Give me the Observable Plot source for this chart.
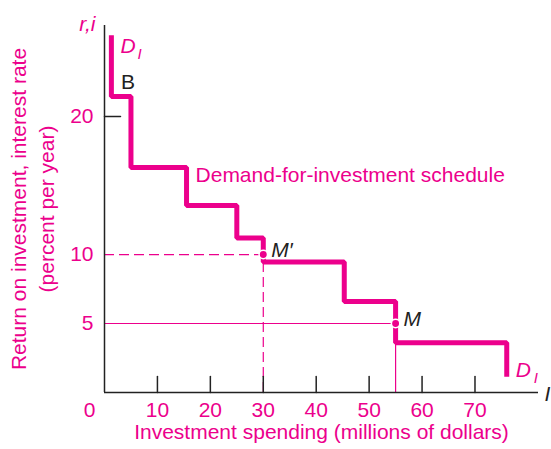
<!DOCTYPE html>
<html><head><meta charset="utf-8">
<script src="https://cdn.jsdelivr.net/npm/d3@7"></script>
<script src="https://cdn.jsdelivr.net/npm/@observablehq/plot@0.6"></script>
<style>body{margin:0;background:#fff}</style>
</head><body><div id="chart"></div>
<script>
// Step-function demand-for-investment schedule
const stepX = [1.3, 5, 15.5, 25, 30, 45.3, 55, 76];
const stepR = [25.9, 21.45, 16.3, 13.55, 11.2, 9.45, 6.6, 3.6, 1.15];
const xTicks = [10, 20, 30, 40, 50, 60, 70];
const yTickLabels = [5, 10, 20];
const yTicks = [20];
const equilibria = [{name: "M′", x: 30, r: 10}, {name: "M", x: 55, r: 5}];
const xMax = 82, yMax = 26.6;

const pink = "#ec008c";
const ink = "#222";
const FS = 21;

const pts = [];
for (let i = 0; i < stepX.length; i++) {
  pts.push({x: stepX[i], r: stepR[i]});
  pts.push({x: stepX[i], r: stepR[i + 1]});
}
const tickShape = {draw(c, l) { c.moveTo(0, 0); c.lineTo(0, -l); }};
const mPrime = equilibria[0], m = equilibria[1];

const chart = Plot.plot({
  width: 551, height: 449,
  marginLeft: 104, marginRight: 13, marginTop: 25, marginBottom: 57,
  x: {domain: [0, xMax], axis: null},
  y: {domain: [0, yMax], axis: null},
  style: {fontFamily: "'Liberation Sans', Arial, sans-serif", background: "#fff"},
  marks: [
    // guide lines
    Plot.ruleY([mPrime], {y: "r", x1: 0, x2: "x", stroke: pink, strokeWidth: 1.2, strokeDasharray: "10,5"}),
    Plot.ruleX([mPrime], {x: "x", y1: 0, y2: "r", stroke: pink, strokeWidth: 1.2, strokeDasharray: "10,5"}),
    Plot.ruleY([m], {y: "r", x1: 0, x2: "x", stroke: pink, strokeWidth: 1.2}),
    Plot.ruleX([m], {x: "x", y1: 0, y2: "r", stroke: pink, strokeWidth: 1.2}),
    // axes
    Plot.ruleY([0], {stroke: ink, strokeWidth: 1.5}),
    Plot.ruleX([0], {stroke: ink, strokeWidth: 1.5}),
    Plot.vector(xTicks, {x: d => d, y: 0, length: 16, rotate: 0, anchor: "start", shape: tickShape, stroke: ink, strokeWidth: 1.5}),
    Plot.vector(yTicks, {x: 0, y: d => d, length: 16, rotate: 90, anchor: "start", shape: tickShape, stroke: ink, strokeWidth: 1.5}),
    // step line
    Plot.line(pts, {x: "x", y: "r", stroke: pink, strokeWidth: 5, strokeLinejoin: "miter", strokeLinecap: "butt"}),
    Plot.dot(equilibria, {x: "x", y: "r", r: 4.2, fill: pink, stroke: "#fff", strokeWidth: 1.5}),
    // tick labels
    Plot.text(xTicks, {x: d => d, y: 0, dy: 18, text: d => String(d), fill: pink, fontSize: FS}),
    Plot.text([0], {x: 0, y: 0, dx: -15, dy: 18, text: d => String(d), fill: pink, fontSize: FS}),
    Plot.text(yTickLabels, {x: 0, y: d => d, dx: -11, textAnchor: "end", text: d => String(d), fill: pink, fontSize: FS}),
    // titles
    Plot.text(["Investment spending (millions of dollars)"], {frameAnchor: "bottom", dy: 46, textAnchor: "middle", fill: pink, fontSize: FS}),
    Plot.text(["Return on investment, interest rate\n(percent per year)"], {frameAnchor: "left", dx: -73, rotate: -90, textAnchor: "middle", lineAnchor: "middle", lineHeight: 1.33, fill: pink, fontSize: FS}),
    Plot.text(["r,i"], {x: 0, y: yMax, dx: -9, dy: -1, textAnchor: "end", fill: pink, fontSize: FS, fontStyle: "italic"}),
    Plot.text(["I"], {x: xMax, y: 0, dx: 6, dy: 2, textAnchor: "start", fill: ink, fontSize: FS, fontStyle: "italic"}),
    // annotations
    Plot.text(["D"], {x: stepX[0], y: stepR[0], dx: 9, dy: 11.5, textAnchor: "start", fill: pink, fontSize: FS, fontStyle: "italic"}),
    Plot.text(["I"], {x: stepX[0], y: stepR[0], dx: 26, dy: 19, textAnchor: "start", fill: pink, fontSize: 15, fontStyle: "italic"}),
    Plot.text(["B"], {x: stepX[0], y: stepR[1], dx: 9.5, dy: -14.5, textAnchor: "start", fill: ink, fontSize: FS}),
    Plot.text(["Demand-for-investment schedule"], {x: stepX[2], y: stepR[2], dx: 9, dy: 7.5, textAnchor: "start", fill: pink, fontSize: FS}),
    Plot.text(equilibria, {x: "x", y: "r", text: "name", dx: 8, dy: -4, textAnchor: "start", fill: ink, fontSize: FS, fontStyle: "italic"}),
    Plot.text(["D"], {x: stepX[stepX.length - 1], y: stepR[stepR.length - 1], dx: 9, dy: -6.5, textAnchor: "start", fill: pink, fontSize: FS, fontStyle: "italic"}),
    Plot.text(["I"], {x: stepX[stepX.length - 1], y: stepR[stepR.length - 1], dx: 27, dy: 2, textAnchor: "start", fill: pink, fontSize: 15, fontStyle: "italic"})
  ]
});
document.getElementById("chart").appendChild(chart);
</script>
</body></html>
